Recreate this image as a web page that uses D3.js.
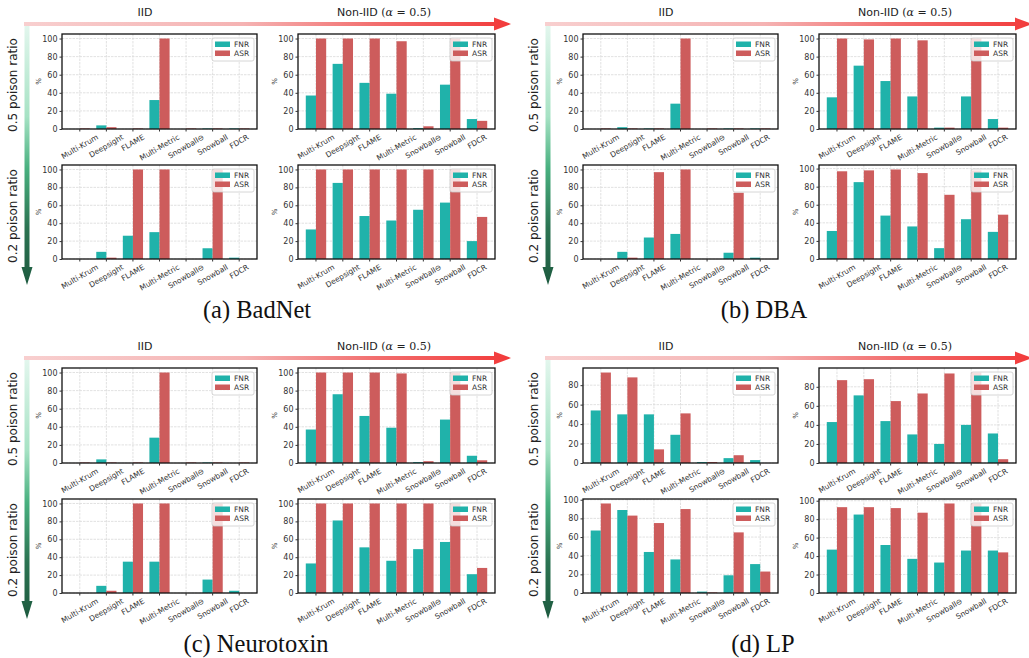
<!DOCTYPE html>
<html>
<head>
<meta charset="utf-8">
<script src="https://cdn.jsdelivr.net/npm/d3@7"></script>
<style>
  html, body { margin: 0; padding: 0; background: #fff; }
  svg { display: block; }
</style>
</head>
<body>
<svg id="chart" width="1029" height="658"></svg>
<script>
// methods on the x axis, same for every subplot
var methods = ["Multi-Krum", "Deepsight", "FLAME", "Multi-Metric", "Snowball\u2296", "Snowball", "FDCR"];

// each attack: [0.5 IID, 0.5 Non-IID, 0.2 IID, 0.2 Non-IID]
var badnetFNR = [
    [0, 4, 0, 32, 0, 0.6, 0.6],
    [37, 72, 51, 39, 1, 49, 11],
    [0, 8, 26, 30, 0, 12, 1.5],
    [33, 85, 48, 43, 55, 63, 20]
];
var badnetASR = [
    [0.6, 2, 0.6, 100, 0.6, 0.6, 0.6],
    [100, 100, 100, 97, 3, 100, 9],
    [0, 1.5, 100, 100, 0, 100, 0],
    [100, 100, 100, 100, 100, 100, 47]
];
var dbaFNR = [
    [0, 2, 0.6, 28, 0, 0.6, 0.6],
    [35, 70, 53, 36, 1.5, 36, 11],
    [0, 8, 24, 28, 0, 7, 1.5],
    [31, 85, 48, 36, 12, 44, 30]
];
var dbaASR = [
    [0.6, 0.6, 0.6, 100, 0.6, 0.6, 0.6],
    [100, 99, 100, 98, 1.5, 100, 1.5],
    [0, 1.5, 97, 100, 0, 74, 0],
    [97, 98, 99, 95, 71, 98, 49]
];
var neuroFNR = [
    [0, 4, 0, 28, 0, 0.6, 0],
    [37, 76, 52, 39, 1, 48, 8],
    [0, 8, 35, 35, 0, 15, 2.5],
    [33, 81, 51, 36, 49, 57, 21]
];
var neuroASR = [
    [0.6, 0.6, 0.6, 100, 0.6, 0.6, 0.6],
    [100, 100, 100, 99, 2, 100, 3],
    [0, 2.5, 100, 100, 0, 100, 0],
    [100, 100, 100, 100, 100, 100, 28]
];
var lpFNR = [
    [54, 50, 50, 29, 1, 5, 3],
    [43, 71, 44, 30, 20, 40, 31],
    [67, 89, 44, 36, 1.5, 19, 31],
    [47, 85, 52, 37, 33, 46, 46]
];
var lpASR = [
    [93, 88, 14, 51, 1, 8, 0],
    [87, 88, 65, 73, 94, 95, 4],
    [96, 83, 75, 90, 0.6, 65, 23],
    [93, 93, 92, 87, 97, 97, 44]
];

var attacks = [
    { caption: "(a) BadNet", fnr: badnetFNR, asr: badnetASR, dx: 0, dy: 0, cx: 257 },
    { caption: "(b) DBA", fnr: dbaFNR, asr: dbaASR, dx: 521, dy: 0, cx: 764 },
    { caption: "(c) Neurotoxin", fnr: neuroFNR, asr: neuroASR, dx: 0, dy: 334, cx: 256 },
    { caption: "(d) LP", fnr: lpFNR, asr: lpASR, dx: 521, dy: 334, cx: 763 }
];

var seriesNames = ["FNR", "ASR"];
var colFNR = "#20b2aa";
var colASR = "#cd5c5c";

// subplot frames inside one panel
var frames = [
    { x: 62, y: 34, w: 195, h: 95 },
    { x: 298, y: 34, w: 197, h: 95 },
    { x: 62, y: 165, w: 195, h: 94 },
    { x: 298, y: 165, w: 197, h: 94 }
];

var svg = d3.select("#chart");
var defs = svg.append("defs");

var hg = defs.append("linearGradient").attr("id", "hgrad")
    .attr("x1", "0%").attr("x2", "100%").attr("y1", "0%").attr("y2", "0%");
[["0%", "#f8cfcf"], ["45%", "#f5b3b3"], ["72%", "#f26e6e"], ["100%", "#f23a3a"]].forEach(function(s) {
    hg.append("stop").attr("offset", s[0]).attr("stop-color", s[1]);
});
var vg = defs.append("linearGradient").attr("id", "vgrad")
    .attr("x1", "0%").attr("x2", "0%").attr("y1", "0%").attr("y2", "100%");
[["0%", "#e2f6ed"], ["35%", "#a6e2c4"], ["55%", "#48b07f"], ["78%", "#2b7352"], ["100%", "#1d5a3f"]].forEach(function(s) {
    vg.append("stop").attr("offset", s[0]).attr("stop-color", s[1]);
});

var fontSans = "'DejaVu Sans', sans-serif";

function drawSubplot(g, f, fnr, asr) {
    var maxV = d3.max(fnr.concat(asr));
    var x = d3.scaleLinear().domain([-0.67, 6.67]).range([f.x, f.x + f.w]);
    var y = d3.scaleLinear().domain([0, maxV * 1.05]).range([f.y + f.h, f.y]);
    var bw = x(0.38) - x(0);
    var yTicks = d3.range(0, maxV * 1.05 + 0.001, 20);

    // grid
    var grid = g.append("g");
    grid.selectAll("line.gy").data(yTicks).join("line")
        .attr("x1", f.x).attr("x2", f.x + f.w)
        .attr("y1", function(d) { return y(d); }).attr("y2", function(d) { return y(d); })
        .attr("stroke", "#d9d9d9").attr("stroke-width", 0.8).attr("stroke-dasharray", "2.5,1");
    grid.selectAll("line.gx").data(d3.range(methods.length)).join("line")
        .attr("x1", function(d) { return x(d); }).attr("x2", function(d) { return x(d); })
        .attr("y1", f.y).attr("y2", f.y + f.h)
        .attr("stroke", "#d9d9d9").attr("stroke-width", 0.8).attr("stroke-dasharray", "2.5,1");

    // bars
    g.append("g").selectAll("rect").data(fnr).join("rect")
        .attr("x", function(d, i) { return x(i) - bw; })
        .attr("y", function(d) { return y(d); })
        .attr("width", bw)
        .attr("height", function(d) { return y(0) - y(d); })
        .attr("fill", colFNR);
    g.append("g").selectAll("rect").data(asr).join("rect")
        .attr("x", function(d, i) { return x(i); })
        .attr("y", function(d) { return y(d); })
        .attr("width", bw)
        .attr("height", function(d) { return y(0) - y(d); })
        .attr("fill", colASR);

    // frame
    g.append("rect").attr("x", f.x).attr("y", f.y).attr("width", f.w).attr("height", f.h)
        .attr("fill", "none").attr("stroke", "#111").attr("stroke-width", 1.3);

    // y axis
    var yAxis = g.append("g").attr("transform", "translate(" + f.x + ",0)")
        .call(d3.axisLeft(y).tickValues(yTicks).tickSize(2.5).tickPadding(2).tickFormat(d3.format("d")));
    yAxis.select(".domain").remove();
    yAxis.selectAll("line").attr("stroke", "#333");
    yAxis.selectAll("text").attr("font-family", fontSans).attr("font-size", 8).attr("fill", "#333");

    g.append("text")
        .attr("transform", "translate(" + (f.x - 21) + "," + (f.y + f.h / 2) + ") rotate(-90)")
        .attr("text-anchor", "middle").attr("font-family", fontSans).attr("font-size", 7)
        .attr("fill", "#333").text("%");

    // x tick labels, rotated 30 deg, centred under tick
    g.append("g").selectAll("line").data(d3.range(methods.length)).join("line")
        .attr("x1", function(d) { return x(d); }).attr("x2", function(d) { return x(d); })
        .attr("y1", f.y + f.h).attr("y2", f.y + f.h + 2.5).attr("stroke", "#333");
    g.append("g").selectAll("text").data(methods).join("text")
        .attr("font-family", fontSans).attr("font-size", 7.5).attr("fill", "#333")
        .attr("text-anchor", "middle").attr("dominant-baseline", "central")
        .text(function(d) { return d; })
        .attr("transform", function(d, i) {
            var L = this.getComputedTextLength();
            var hh = L * 0.5 + 8 * 0.866;
            return "translate(" + x(i) + "," + (f.y + f.h + 4 + hh / 2) + ") rotate(-30)";
        });

    // legend
    var lg = g.append("g").attr("transform", "translate(" + (f.x + f.w - 45) + "," + (f.y + 4) + ")");
    lg.append("rect").attr("width", 42).attr("height", 23).attr("rx", 2)
        .attr("fill", "#fff").attr("fill-opacity", 0.8).attr("stroke", "#ccc").attr("stroke-width", 0.8);
    seriesNames.forEach(function(name, k) {
        lg.append("rect").attr("x", 3).attr("y", 3.5 + k * 9).attr("width", 15).attr("height", 5.5)
            .attr("fill", k === 0 ? colFNR : colASR);
        lg.append("text").attr("x", 22).attr("y", 9 + k * 9)
            .attr("font-family", fontSans).attr("font-size", 7.5).attr("fill", "#333").text(name);
    });
}

attacks.forEach(function(a) {
    var p = svg.append("g").attr("transform", "translate(" + a.dx + "," + a.dy + ")");

    // horizontal arrow (IID -> Non-IID)
    p.append("path")
        .attr("d", "M24,22 L494,22 L494,17.5 L511,24 L494,30.5 L494,26 L24,26 Z")
        .attr("fill", "url(#hgrad)");
    // vertical arrow (0.5 -> 0.2 poison ratio)
    p.append("path")
        .attr("d", "M24.5,26 L29.5,26 L29.5,267 L32.5,267 L27,285 L21.5,267 L24.5,267 Z")
        .attr("fill", "url(#vgrad)");

    p.append("text").attr("x", 145).attr("y", 16).attr("text-anchor", "middle")
        .attr("font-family", fontSans).attr("font-size", 11).attr("fill", "#222").text("IID");
    var t = p.append("text").attr("x", 384).attr("y", 16).attr("text-anchor", "middle")
        .attr("font-family", fontSans).attr("font-size", 11).attr("fill", "#222");
    t.append("tspan").text("Non-IID ");
    t.append("tspan").attr("font-family", "'DejaVu Serif', serif").text(" (");
    t.append("tspan").attr("font-family", "'DejaVu Serif', serif").attr("font-style", "italic").text("\u03b1");
    t.append("tspan").attr("font-family", "'DejaVu Serif', serif").text(" = 0.5)");

    p.append("text").attr("transform", "translate(17,85) rotate(-90)").attr("text-anchor", "middle")
        .attr("font-family", fontSans).attr("font-size", 12).attr("fill", "#222").text("0.5 poison ratio");
    p.append("text").attr("transform", "translate(17,216) rotate(-90)").attr("text-anchor", "middle")
        .attr("font-family", fontSans).attr("font-size", 12).attr("fill", "#222").text("0.2 poison ratio");

    frames.forEach(function(f, k) {
        drawSubplot(p, f, a.fnr[k], a.asr[k]);
    });

    svg.append("text").attr("x", a.cx).attr("y", a.dy + 318).attr("text-anchor", "middle")
        .attr("font-family", "'Liberation Serif', 'Times New Roman', serif").attr("font-size", 24.5)
        .attr("fill", "#111").text(a.caption);
});
</script>
</body>
</html>
